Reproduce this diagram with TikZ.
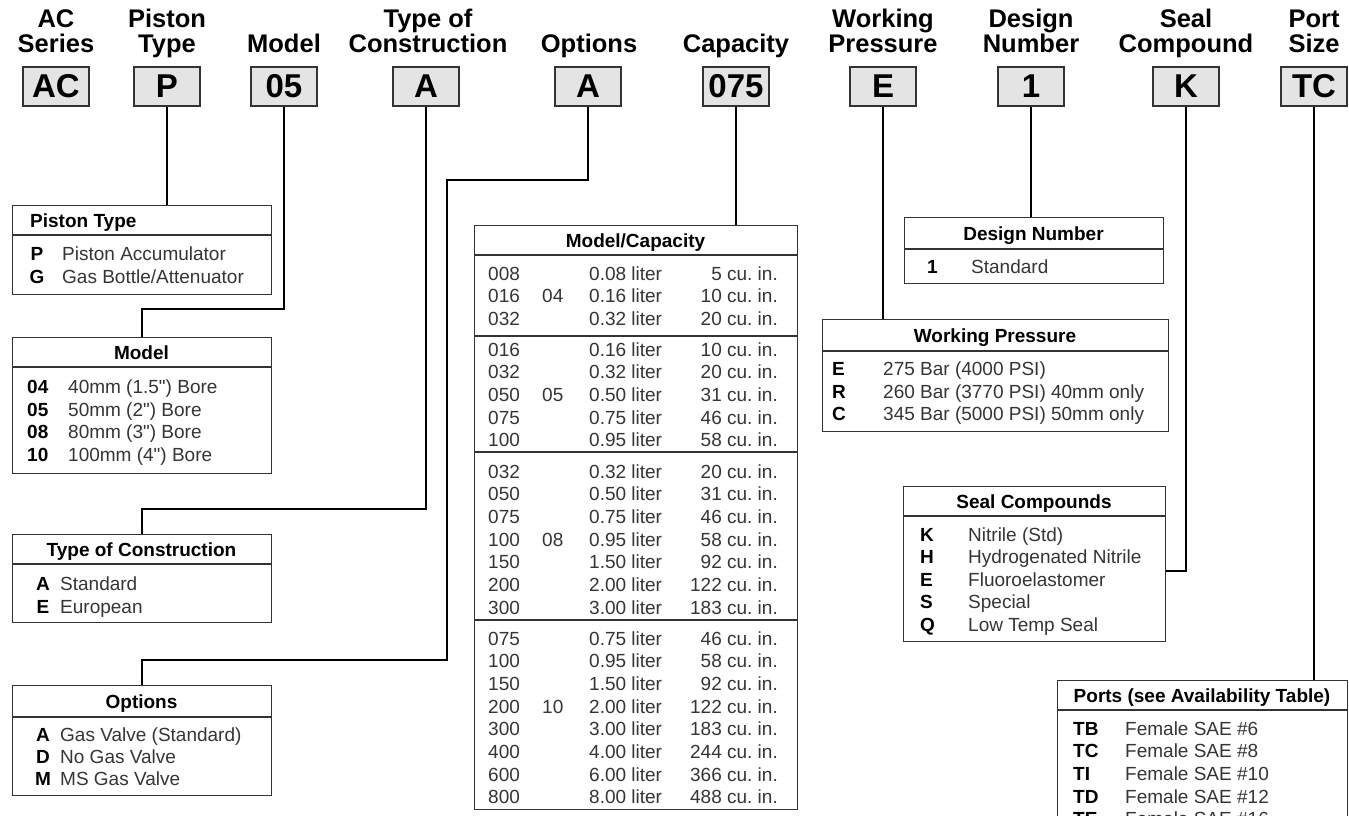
\documentclass[tikz,border=0pt]{standalone}
\usepackage{fontspec}
\setmainfont{Liberation Sans}[Ligatures=TeXOff]
\usetikzlibrary{calc}
\definecolor{boxgray}{HTML}{E4E4E4}
\definecolor{edge}{HTML}{333333}
\definecolor{bodytxt}{HTML}{353535}
\tikzset{
  hdr/.style={font=\fontsize{25.5}{25.5}\selectfont\bfseries, anchor=base, inner sep=0},
  codebox/.style={draw=edge, line width=1.3pt, fill=boxgray, minimum width=66pt, minimum height=39pt, inner sep=0, font=\fontsize{33}{33}\selectfont\bfseries},
  tbl/.style={draw=edge, line width=1.3pt, anchor=north west, inner sep=0, fill=white},
  sepline/.style={draw=edge, line width=2pt},
  conn/.style={draw=black, line width=2.2pt},
  ttl/.style={font=\fontsize{19}{19}\selectfont\bfseries, anchor=base, inner sep=0},
  ttlw/.style={font=\fontsize{19}{19}\selectfont\bfseries, anchor=base west, inner sep=0},
  keyc/.style={font=\fontsize{19}{19}\selectfont\bfseries, anchor=base, inner sep=0},
  keyw/.style={font=\fontsize{19}{19}\selectfont\bfseries, anchor=base west, inner sep=0},
  txt/.style={font=\fontsize{19}{19}\selectfont, text=bodytxt, anchor=base west, inner sep=0},
  txte/.style={font=\fontsize{19}{19}\selectfont, text=bodytxt, anchor=base east, inner sep=0},
}
\newcommand\slashch{/}
\newcommand\inch{\char34\relax}
\begin{document}
\begin{tikzpicture}[x=1pt,y=-1pt]
\useasboundingbox (0,0) rectangle (1349,815);
\clip (0,0) rectangle (1349,815);

% ---------- header labels ----------
\node[hdr] (l1a) at (56,27) {AC};
\node[hdr] (l1b) at (56,52) {Series};
\node[hdr] (l2a) at (167,27) {Piston};
\node[hdr] (l2b) at (167,52) {Type};
\node[hdr] (l3b) at (284,52) {Model};
\node[hdr] (l4a) at (428,27) {Type of};
\node[hdr] (l4b) at (428,52) {Construction};
\node[hdr] (l5b) at (589,52) {Options};
\node[hdr] (l6b) at (736,52) {Capacity};
\node[hdr] (l7a) at (883,27) {Working};
\node[hdr] (l7b) at (883,52) {Pressure};
\node[hdr] (l8a) at (1031,27) {Design};
\node[hdr] (l8b) at (1031,52) {Number};
\node[hdr] (l9a) at (1186,27) {Seal};
\node[hdr] (l9b) at (1186,52) {Compound};
\node[hdr] (l10a) at (1314,27) {Port};
\node[hdr] (l10b) at (1314,52) {Size};

% ---------- code boxes ----------
\node[codebox] (hAC) at (56,86.5) {AC};
\node[codebox] (hP) at (167,86.5) {P};
\node[codebox] (hM) at (284,86.5) {05};
\node[codebox] (hT) at (426,86.5) {A};
\node[codebox] (hO) at (588,86.5) {A};
\node[codebox] (hC) at (736,86.5) {075};
\node[codebox] (hW) at (883,86.5) {E};
\node[codebox] (hD) at (1031,86.5) {1};
\node[codebox] (hS) at (1186,86.5) {K};
\node[codebox] (hX) at (1314,86.5) {TC};

% ---------- table frames ----------
\node[tbl, minimum width=259pt, minimum height=89pt] (tPT) at (12,205) {};
\node[tbl, minimum width=259pt, minimum height=136pt] (tM) at (12,337) {};
\node[tbl, minimum width=259pt, minimum height=88pt] (tT) at (12,534) {};
\node[tbl, minimum width=259pt, minimum height=110pt] (tO) at (12,685) {};
\node[tbl, minimum width=323pt, minimum height=584pt] (tC) at (474,225) {};
\node[tbl, minimum width=259pt, minimum height=66pt] (tD) at (904,217) {};
\node[tbl, minimum width=346pt, minimum height=112pt] (tW) at (822,319) {};
\node[tbl, minimum width=262pt, minimum height=155pt] (tS) at (903,486) {};
\node[tbl, minimum width=290pt, minimum height=220pt] (tX) at (1057,680) {};

% ---------- connectors ----------
\coordinate (ob1) at (447,180);
\draw[conn] (hP.south) -- (hP.south |- tPT.north);
\draw[conn] (hM.south) |- ([yshift=28pt]tM.north) -- (tM.north);
\draw[conn] (hT.south) |- ([yshift=25pt]tT.north) -- (tT.north);
\draw[conn] (hO.south) |- (ob1) |- ([yshift=25pt]tO.north) -- (tO.north);
\draw[conn] (hC.south) -- (hC.south |- tC.north);
\draw[conn] (hW.south) -- (hW.south |- tW.north);
\draw[conn] (hD.south) -- (hD.south |- tD.north);
\draw[conn] (hS.south) |- ([yshift=-7pt]tS.east);
\draw[conn] (hX.south) -- (hX.south |- tX.north);

% ---------- title separators ----------
\draw[sepline] ([yshift=-30pt]tPT.north west) -- ([yshift=-30pt]tPT.north east);
\draw[sepline] ([yshift=-30pt]tM.north west) -- ([yshift=-30pt]tM.north east);
\draw[sepline] ([yshift=-30pt]tT.north west) -- ([yshift=-30pt]tT.north east);
\draw[sepline] ([yshift=-32pt]tO.north west) -- ([yshift=-32pt]tO.north east);
\draw[sepline] ([yshift=-30pt]tC.north west) -- ([yshift=-30pt]tC.north east);
\draw[sepline] ([yshift=-32pt]tD.north west) -- ([yshift=-32pt]tD.north east);
\draw[sepline] ([yshift=-32pt]tW.north west) -- ([yshift=-32pt]tW.north east);
\draw[sepline] ([yshift=-30pt]tS.north west) -- ([yshift=-30pt]tS.north east);
\draw[sepline] ([yshift=-30pt]tX.north west) -- ([yshift=-30pt]tX.north east);
% section separators in capacity table
\draw[draw=edge, line width=1.3pt] (tC.west |- 0,336) -- (tC.east |- 0,336);
\draw[draw=edge, line width=1.3pt] (tC.west |- 0,452) -- (tC.east |- 0,452);
\draw[draw=edge, line width=1.3pt] (tC.west |- 0,620) -- (tC.east |- 0,620);

% ---------- Piston Type ----------
\node[ttlw] (ptT) at (30,227) {Piston Type};
\node[keyc] (ptk1) at (37,260) {P};
\node[txt] (ptt1) at (62,260) {Piston Accumulator};
\node[keyc] (ptk2) at (37,283) {G};
\node[txt] (ptt2) at (62,283) {Gas Bottle\slashch Attenuator};

% ---------- Model ----------
\node[ttl] (mT) at (141.5,359) {Model};
\foreach \k/\t/\y [count=\i] in {04/40mm (1.5\inch) Bore/393, 05/50mm (2\inch) Bore/416, 08/80mm (3\inch) Bore/438, 10/100mm (4\inch) Bore/461} {
  \node[keyw] (mk\i) at (27,\y) {\k};
  \node[txt] (mt\i) at (68,\y) {\t};
}

% ---------- Type of Construction ----------
\node[ttl] (tcT) at (141.5,556) {Type of Construction};
\node[keyc] (tck1) at (43,590) {A};
\node[txt] (tct1) at (60,590) {Standard};
\node[keyc] (tck2) at (43,613) {E};
\node[txt] (tct2) at (60,613) {European};

% ---------- Options ----------
\node[ttl] (opT) at (141.5,708) {Options};
\node[keyc] (opk1) at (43,741) {A};
\node[txt] (opt1) at (60,741) {Gas Valve (Standard)};
\node[keyc] (opk2) at (43,763) {D};
\node[txt] (opt2) at (60,763) {No Gas Valve};
\node[keyc] (opk3) at (43,785) {M};
\node[txt] (opt3) at (60,785) {MS Gas Valve};

% ---------- Model/Capacity ----------
\node[ttl] (cT) at (635.5,247) {Model\slashch Capacity};
\foreach \a/\b/\c [count=\i] in {008/0.08/5, 016/0.16/10, 032/0.32/20} {
  \pgfmathsetmacro\yy{273+(\i-1)*22.7+7}
  \node[txt] (ca\i) at (488,\yy) {\a};
  \node[txt] (cb\i) at (589,\yy) {\b\ liter};
  \node[txte] (cc\i) at (778,\yy) {\c\ cu.\ in.};
}
\node[txt] (cm1) at (542,{273+22.7+7}) {04};
\foreach \a/\b/\c [count=\i] in {016/0.16/10, 032/0.32/20, 050/0.50/31, 075/0.75/46, 100/0.95/58} {
  \pgfmathsetmacro\yy{349+(\i-1)*22.7+7}
  \node[txt] (da\i) at (488,\yy) {\a};
  \node[txt] (db\i) at (589,\yy) {\b\ liter};
  \node[txte] (dc\i) at (778,\yy) {\c\ cu.\ in.};
}
\node[txt] (cm2) at (542,{349+2*22.7+7}) {05};
\foreach \a/\b/\c [count=\i] in {032/0.32/20, 050/0.50/31, 075/0.75/46, 100/0.95/58, 150/1.50/92, 200/2.00/122, 300/3.00/183} {
  \pgfmathsetmacro\yy{471+(\i-1)*22.7+7}
  \node[txt] (ea\i) at (488,\yy) {\a};
  \node[txt] (eb\i) at (589,\yy) {\b\ liter};
  \node[txte] (ec\i) at (778,\yy) {\c\ cu.\ in.};
}
\node[txt] (cm3) at (542,{471+3*22.7+7}) {08};
\foreach \a/\b/\c [count=\i] in {075/0.75/46, 100/0.95/58, 150/1.50/92, 200/2.00/122, 300/3.00/183, 400/4.00/244, 600/6.00/366, 800/8.00/488} {
  \pgfmathsetmacro\yy{638+(\i-1)*22.7+7}
  \node[txt] (fa\i) at (488,\yy) {\a};
  \node[txt] (fb\i) at (589,\yy) {\b\ liter};
  \node[txte] (fc\i) at (778,\yy) {\c\ cu.\ in.};
}
\node[txt] (cm4) at (542,{638+3*22.7+7}) {10};

% ---------- Design Number ----------
\node[ttl] (dnT) at (1033.5,240) {Design Number};
\node[keyw] (dnk1) at (927,273) {1};
\node[txt] (dnt1) at (971,273) {Standard};

% ---------- Working Pressure ----------
\node[ttl] (wpT) at (995,342) {Working Pressure};
\node[keyw] (wpk1) at (832,375) {E};
\node[txt] (wpt1) at (883,375) {275 Bar (4000 PSI)};
\node[keyw] (wpk2) at (832,398) {R};
\node[txt] (wpt2) at (883,398) {260 Bar (3770 PSI) 40mm only};
\node[keyw] (wpk3) at (832,420) {C};
\node[txt] (wpt3) at (883,420) {345 Bar (5000 PSI) 50mm only};

% ---------- Seal Compounds ----------
\node[ttl] (scT) at (1034,508) {Seal Compounds};
\foreach \k/\t [count=\i] in {K/Nitrile (Std), H/Hydrogenated Nitrile, E/Fluoroelastomer, S/Special, Q/Low Temp Seal} {
  \pgfmathsetmacro\yy{534+(\i-1)*22.6+7}
  \node[keyw] (sck\i) at (920,\yy) {\k};
  \node[txt] (sct\i) at (968,\yy) {\t};
}

% ---------- Ports ----------
\node[ttl] (poT) at (1202,702) {Ports (see Availability Table)};
\foreach \k/\t [count=\i] in {TB/Female SAE \#6, TC/Female SAE \#8, TI/Female SAE \#10, TD/Female SAE \#12, TE/Female SAE \#16} {
  \pgfmathsetmacro\yy{728+(\i-1)*22.7+7}
  \node[keyw] (pok\i) at (1073,\yy) {\k};
  \node[txt] (pot\i) at (1125,\yy) {\t};
}
\end{tikzpicture}
\end{document}
